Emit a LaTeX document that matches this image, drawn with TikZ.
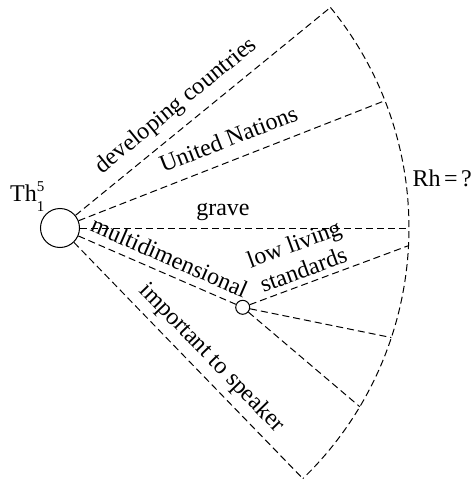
\documentclass[tikz,border=0pt]{standalone}
\usepackage{fontspec}
\setmainfont{Liberation Serif}
\usetikzlibrary{calc}
\begin{document}
\begin{tikzpicture}[x=1pt,y=1pt,
  conn/.style={draw, line width=1pt, dash pattern=on 7pt off 4pt},
  hub/.style={circle, draw, line width=1pt, inner sep=0pt, minimum size=39pt},
  subhub/.style={circle, draw, line width=1pt, inner sep=0pt, minimum size=14pt},
  lbl/.style={inner sep=0pt, font=\fontsize{24}{28}\selectfont, anchor=base}]
\useasboundingbox (-60,-255) rectangle (414,228);

% theme node and the secondary node on the "multidimensional" ray
\node[hub] (th) at (0,0) {};
\node[subhub] (md) at (182.7,-79.3) {};

% end points on the outer arc
\coordinate (a1) at (39.2:349);
\coordinate (a2) at (21.4:349);
\coordinate (a3) at (0:349);
\coordinate (b1) at (-2.9:349);
\coordinate (b2) at (-18.3:349);
\coordinate (b3) at (-30.8:349);
\coordinate (a5) at (-45.9:349);

% rays
\draw[conn] (th) -- (a1);
\draw[conn] (th) -- (a2);
\draw[conn] (th) -- (a3);
\draw[conn] (th) -- (md);
\draw[conn] (th) -- (a5);
\draw[conn] (md) -- (b1);
\draw[conn] (md) -- (b2);
\draw[conn] (md) -- (b3);

% outer arc
\draw[conn] (a1) arc[start angle=39.2, end angle=-45.9, radius=349pt];

% labels along the rays
\path (39.2:167.3) ++(129.2:15) node[lbl, rotate=39.2] (l1) {developing countries};
\path (21.4:189.3) ++(111.4:13.5) node[lbl, rotate=21.4] (l2) {United Nations};
\path (0:163) ++(90:13) node[lbl] (l3) {grave};
\path (-23.5:112) ++(66.5:9) node[lbl, rotate=-23.5] (l4) {multidimensional};
\path (-45.9:199) ++(44.1:12.5) node[lbl, rotate=-45.9] (l5) {important to speaker};
\path (md) ++(20.2:70) ++(110.2:6.5) node[lbl, rotate=20.2] (l6) {standards};
\path (md) ++(20.2:70) ++(110.2:34) node[lbl, rotate=20.2] (l7) {low living};

\node[lbl, anchor=base west] (rh) at (352.5,41.3) {Rh\kern3.5pt=\kern3.5pt?};
\node[lbl, anchor=base west] (thl) at (-50,26.3)
  {Th{\fontsize{15}{15}\selectfont\raisebox{-10pt}{1}\llap{\raisebox{10pt}{5}}}};
\end{tikzpicture}
\end{document}
